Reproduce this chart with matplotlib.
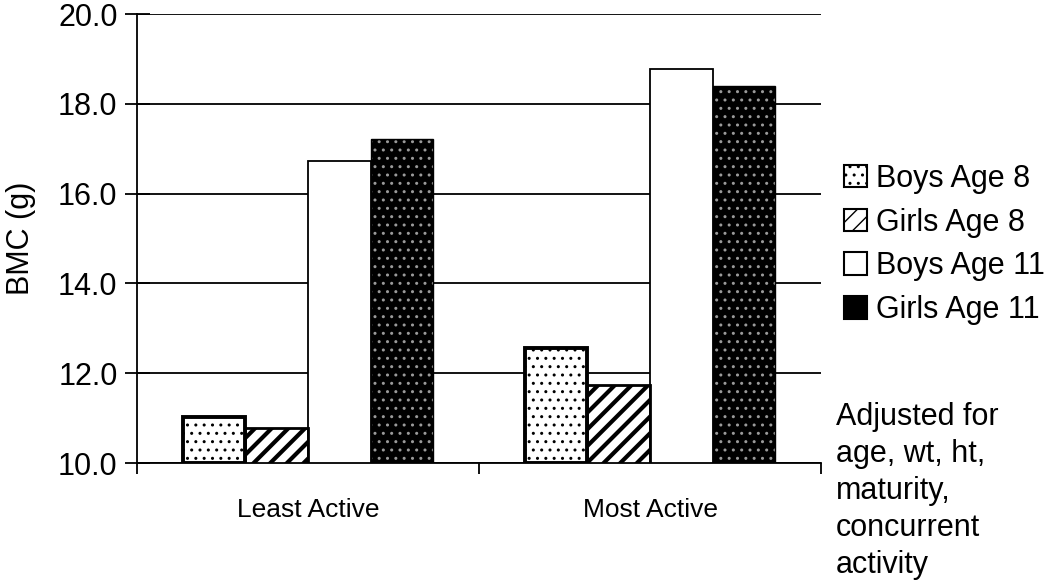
"""
Bar chart of adjusted BMC by activity level, sex and age
"""

import matplotlib
matplotlib.use('Agg')
import matplotlib.pyplot as plt
from matplotlib.patches import Patch
import numpy as np

plt.rcParams['font.family'] = ['Liberation Sans', 'DejaVu Sans']

categories = ['Least Active', 'Most Active']
series = ['Boys Age 8', 'Girls Age 8', 'Boys Age 11', 'Girls Age 11']
values = {
    'Boys Age 8': [11.02, 12.56],
    'Girls Age 8': [10.78, 11.73],
    'Boys Age 11': [16.73, 18.78],
    'Girls Age 11': [17.22, 18.40],
}
yticks = [10.0, 12.0, 14.0, 16.0, 18.0, 20.0]

# fill, hatch, hatch colour, edge width, hatch width per series
styles = [
    ('white', '..', 'black', 2.8, 1.0),
    ('white', '//', 'black', 2.0, 3.0),
    ('white', '', 'black', 1.3, 1.0),
    ('black', '..', '#9a9a9a', 1.0, 1.0),
]

fig = plt.figure(figsize=(10.5, 5.85), dpi=100)
ax = fig.add_axes([0.1305, 0.2085, 0.6515, 0.7675])

x = np.arange(len(categories))
width = 0.183
handles = []
for i, name in enumerate(series):
    face, hatch, hcol, lw, hlw = styles[i]
    pos = x + (i - 1.5) * width
    with plt.rc_context({'hatch.linewidth': hlw}):
        ax.bar(pos, np.array(values[name]) - 10, width, bottom=10,
               color=face, hatch=hatch, edgecolor=hcol, linewidth=0, zorder=3)
        handles.append(Patch(facecolor=face, hatch=hatch, edgecolor=hcol,
                             linewidth=0))
    ax.bar(pos, np.array(values[name]) - 10, width, bottom=10,
           fill=False, edgecolor='black', linewidth=lw, zorder=4)
# draw bars, hatch first then outline

ax.set_xlim(-0.5, 1.5)
ax.set_ylim(10, 20)
ax.set_yticks(yticks)
ax.set_yticklabels(['%.1f' % t for t in yticks], fontsize=22)
ax.set_xticks(x)
ax.set_xticklabels(categories, fontsize=19)
ax.tick_params(axis='x', length=0, pad=25)
ax.set_xticks([-0.5, 0.5, 1.5], minor=True)
ax.tick_params(axis='x', which='minor', direction='out', length=8, width=1.3)
ax.tick_params(axis='y', direction='inout', length=18, width=1.3, pad=5)
ax.yaxis.grid(True, color='black', linewidth=1.3, zorder=0)
ax.set_axisbelow(True)
for s in ['top', 'right']:
    ax.spines[s].set_visible(False)
for s in ['left', 'bottom']:
    ax.spines[s].set_linewidth(1.3)
ax.set_ylabel('BMC (g)', fontsize=22, labelpad=16)
# axes and labels

leg = fig.legend(handles, series, loc='upper left',
                 bbox_to_anchor=(0.778, 0.767), frameon=False, fontsize=22,
                 handlelength=0.75, handleheight=0.75, handletextpad=0.3,
                 labelspacing=0.45)
for h in leg.legend_handles:
    h.set_edgecolor('black')
    h.set_linewidth(1.5)

fig.text(0.796, 0.312, 'Adjusted for\nage, wt, ht,\nmaturity,\nconcurrent\nactivity',
         fontsize=22, va='top', ha='left', linespacing=1.3)

plt.savefig('out.png', dpi=100)
